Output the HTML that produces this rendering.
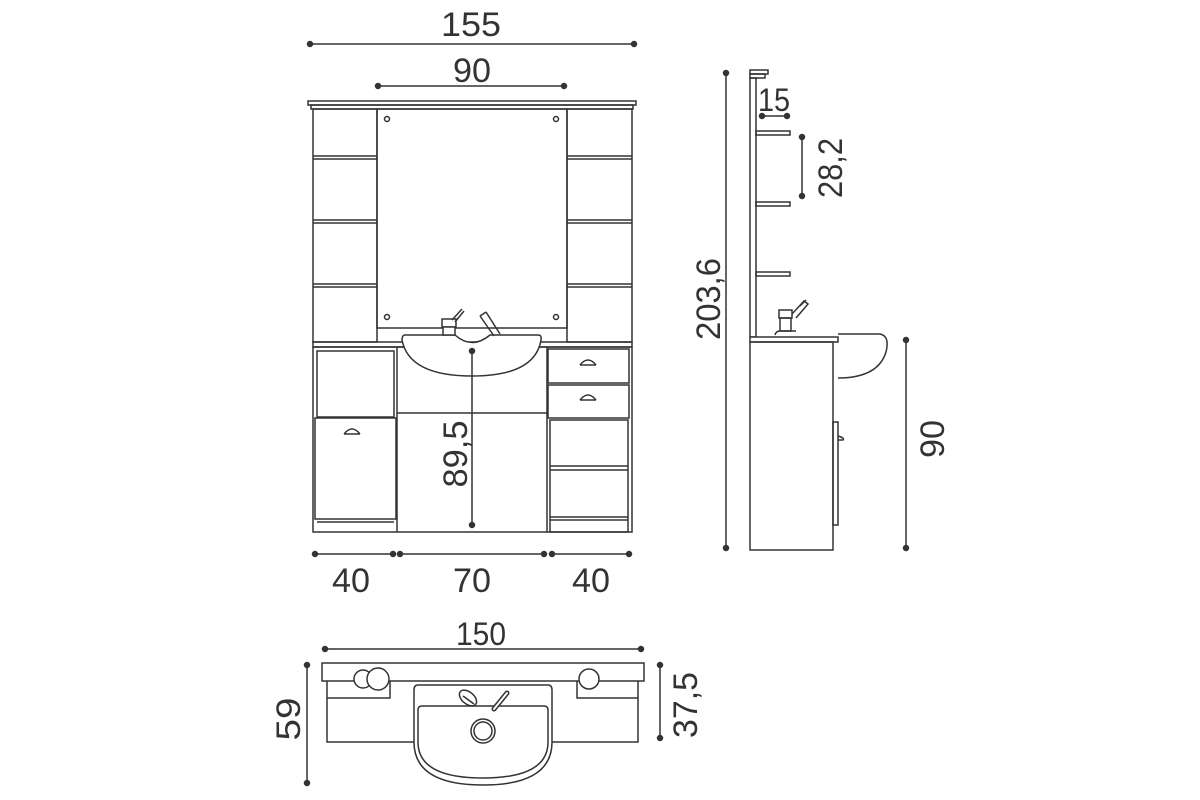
<!DOCTYPE html>
<html><head><meta charset="utf-8"><style>
html,body{margin:0;padding:0;background:#fff}
svg{display:block}
text{font-family:"Liberation Sans",sans-serif;fill:#333}
</style></head><body>
<svg width="1200" height="800" viewBox="0 0 1200 800" xmlns="http://www.w3.org/2000/svg">
<g fill="none" stroke="#333" stroke-width="1.5">
<rect x="308" y="101" width="328" height="4"/>
<rect x="311" y="105" width="322" height="4"/>
<rect x="313" y="109" width="64" height="233"/>
<rect x="567" y="109" width="65" height="233"/>
<rect x="377" y="109" width="190" height="219"/>
<circle cx="387" cy="119" r="2.5"/><circle cx="556" cy="119" r="2.5"/>
<circle cx="387" cy="317" r="2.5"/><circle cx="556" cy="317" r="2.5"/>
<path d="M313 156H377M313 159H377M313 220H377M313 223H377M313 284H377M313 287H377"/>
<path d="M567 156H632M567 159H632M567 220H632M567 223H632M567 284H632M567 287H632"/>
<rect x="313" y="342" width="319" height="5"/>
<rect x="313" y="347" width="319" height="185"/>
<line x1="397" y1="347" x2="397" y2="532"/><line x1="547" y1="347" x2="547" y2="532"/>
<rect x="317" y="351" width="77" height="66"/>
<rect x="315" y="418" width="81" height="101"/>
<line x1="317" y1="522" x2="394" y2="522"/>
<line x1="397" y1="413" x2="547" y2="413"/>
<rect x="548" y="349" width="81" height="34"/>
<rect x="548" y="385" width="81" height="33"/>
<rect x="550" y="420" width="78" height="112"/>
<path d="M550 466H628M550 470H628M550 517H628M550 520H628"/>
<path d="M344 434Q352 424 360 434M344 434H360"/>
<path d="M580 365Q588 355 596 365M580 365H596"/>
<path d="M580 400Q588 390 596 400M580 400H596"/>
<path d="M405 335H455Q472 350 490 335H538Q542 335 541 340Q535 376 472 376Q409 376 402 340Q402 335 405 335Z" fill="#fff"/>
<rect x="442" y="319" width="14" height="8" fill="#fff"/>
<rect x="443" y="327" width="12" height="8" fill="#fff"/>
<path d="M452 320L462 309M455 322L464 311"/>
<path d="M480 316L494 336M486 312L500 334M480 316L486 312"/>
<rect x="750" y="70" width="18" height="4"/>
<rect x="750" y="74" width="15" height="4"/>
<rect x="750" y="78" width="6" height="259"/>
<rect x="756" y="131" width="34" height="4"/>
<rect x="756" y="202" width="34" height="4"/>
<rect x="756" y="272" width="34" height="4"/>
<path d="M838 334H880Q890 336 886 352Q878 378 838 378" fill="#fff"/>
<rect x="750" y="337" width="88" height="5" fill="#fff"/>
<rect x="750" y="342" width="83" height="208"/>
<rect x="833" y="422" width="5" height="103"/>
<path d="M838 436Q845 438 843 440H838"/>
<path d="M775 335Q776 331 780 331H796"/>
<rect x="779" y="310" width="13" height="8"/><rect x="780" y="318" width="11" height="13"/>
<path d="M792 314L804 301L808 304L796 318M800 306L806 300"/>
<rect x="322" y="663" width="322" height="18"/>
<path d="M327 681V742H414M552 742H638V681"/>
<path d="M327 698H390V681M577 681V698H638"/>
<circle cx="363" cy="679" r="9" fill="#fff"/>
<circle cx="378" cy="679" r="11" fill="#fff"/>
<circle cx="589" cy="679" r="10" fill="#fff"/>
<path d="M418 685H548Q552 685 552 690V742Q552 785 483 785Q414 785 414 742V690Q414 685 418 685Z" fill="#fff"/>
<path d="M422 706H544Q548 706 548 710V742Q548 778 483 778Q418 778 418 742V710Q418 706 422 706Z"/>
<circle cx="483" cy="731" r="12"/><circle cx="483" cy="731" r="9"/>
<ellipse cx="468" cy="698" rx="10" ry="6" transform="rotate(40 468 698)"/>
<path d="M463 696L474 704"/>
<path d="M507 693L494 709" stroke-width="5" stroke-linecap="round"/>
</g>
<path d="M507 693L494 709" stroke="#fff" stroke-width="2" stroke-linecap="round"/>
<g stroke="#333" stroke-width="1.5" fill="#333">
<line x1="310" y1="44" x2="634" y2="44"/><circle cx="310" cy="44" r="2.5"/><circle cx="634" cy="44" r="2.5"/>
<line x1="378" y1="86" x2="564" y2="86"/><circle cx="378" cy="86" r="2.5"/><circle cx="564" cy="86" r="2.5"/>
<line x1="472" y1="351" x2="472" y2="525"/><circle cx="472" cy="351" r="2.5"/><circle cx="472" cy="525" r="2.5"/>
<line x1="315" y1="554" x2="393" y2="554"/><circle cx="315" cy="554" r="2.5"/><circle cx="393" cy="554" r="2.5"/>
<line x1="400" y1="554" x2="544" y2="554"/><circle cx="400" cy="554" r="2.5"/><circle cx="544" cy="554" r="2.5"/>
<line x1="552" y1="554" x2="629" y2="554"/><circle cx="552" cy="554" r="2.5"/><circle cx="629" cy="554" r="2.5"/>
<line x1="726" y1="73" x2="726" y2="548"/><circle cx="726" cy="73" r="2.5"/><circle cx="726" cy="548" r="2.5"/>
<line x1="762" y1="116" x2="787" y2="116"/><circle cx="762" cy="116" r="2.5"/><circle cx="787" cy="116" r="2.5"/>
<line x1="802" y1="137" x2="802" y2="196"/><circle cx="802" cy="137" r="2.5"/><circle cx="802" cy="196" r="2.5"/>
<line x1="906" y1="340" x2="906" y2="548"/><circle cx="906" cy="340" r="2.5"/><circle cx="906" cy="548" r="2.5"/>
<line x1="325" y1="649" x2="641" y2="649"/><circle cx="325" cy="649" r="2.5"/><circle cx="641" cy="649" r="2.5"/>
<line x1="307" y1="665" x2="307" y2="783"/><circle cx="307" cy="665" r="2.5"/><circle cx="307" cy="783" r="2.5"/>
<line x1="660" y1="665" x2="660" y2="738"/><circle cx="660" cy="665" r="2.5"/><circle cx="660" cy="738" r="2.5"/>
</g>
<g font-size="34" text-anchor="middle">
<text x="471" y="36" textLength="60" lengthAdjust="spacingAndGlyphs">155</text>
<text x="472" y="82" textLength="38" lengthAdjust="spacingAndGlyphs">90</text>
<text x="351" y="592" textLength="38" lengthAdjust="spacingAndGlyphs">40</text>
<text x="472" y="592" textLength="38" lengthAdjust="spacingAndGlyphs">70</text>
<text x="591" y="592" textLength="38" lengthAdjust="spacingAndGlyphs">40</text>
<text x="774" y="111" font-size="32" textLength="32" lengthAdjust="spacingAndGlyphs">15</text>
<text x="481" y="645" font-size="32" textLength="50" lengthAdjust="spacingAndGlyphs">150</text>
<text transform="translate(467 454) rotate(-90)" textLength="67" lengthAdjust="spacingAndGlyphs">89,5</text>
<text transform="translate(720 299) rotate(-90)" textLength="82" lengthAdjust="spacingAndGlyphs">203,6</text>
<text transform="translate(842 168) rotate(-90)" textLength="60" lengthAdjust="spacingAndGlyphs">28,2</text>
<text transform="translate(944 439) rotate(-90)" textLength="38" lengthAdjust="spacingAndGlyphs">90</text>
<text transform="translate(300 719) rotate(-90)" textLength="43" lengthAdjust="spacingAndGlyphs">59</text>
<text transform="translate(697 705) rotate(-90)" textLength="66" lengthAdjust="spacingAndGlyphs">37,5</text>
</g>
</svg>
</body></html>
